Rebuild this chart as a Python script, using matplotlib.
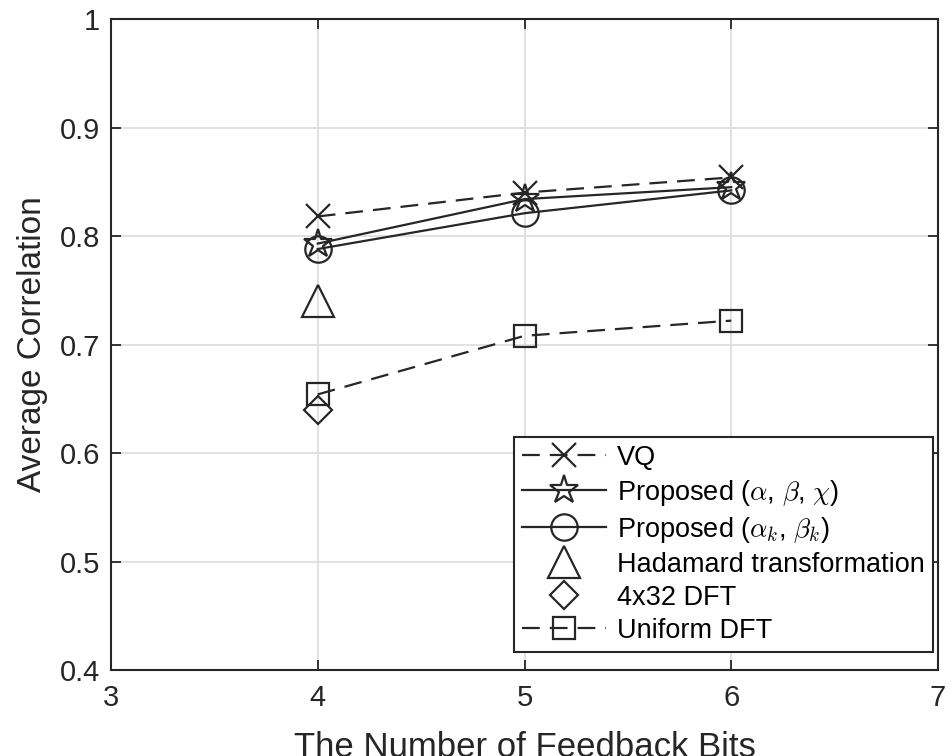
import matplotlib
matplotlib.use("Agg")
import matplotlib.pyplot as plt

plt.rcParams["font.family"] = ["Liberation Sans", "DejaVu Sans"]
plt.rcParams["mathtext.fontset"] = "cm"

# data
bits = [4, 5, 6]
vq = [0.818, 0.840, 0.854]
prop_abc = [0.793, 0.834, 0.845]
prop_k = [0.788, 0.821, 0.842]
hadamard_x = [4]
hadamard = [0.740]
dft432_x = [4]
dft432 = [0.640]
uniform_dft = [0.654, 0.708, 0.722]

fig = plt.figure(figsize=(9.52, 7.56), dpi=100)
# axes box: x 111..938 px, y 19..670 px
ax = fig.add_axes([111 / 952, 1 - 670 / 756, 827 / 952, 651 / 756])

c = "#262626"
lw = 1.6
dash = (0, (8, 4.5))

ax.plot(bits, vq, color=c, lw=lw, ls=dash, marker="x", ms=17, mew=lw,
        label="VQ")
ax.plot(bits, prop_abc, color=c, lw=lw, ls="-", marker="*", ms=21,
        mfc="none", mew=lw, label=r"Proposed ($\alpha$, $\beta$, $\chi$)")
ax.plot(bits, prop_k, color=c, lw=lw, ls="-", marker="o", ms=19,
        mfc="none", mew=lw, label=r"Proposed ($\alpha_k$, $\beta_k$)")
ax.plot(hadamard_x, hadamard, color=c, ls="none", marker="^", ms=23,
        mfc="none", mew=lw, label="Hadamard transformation")
ax.plot(dft432_x, dft432, color=c, ls="none", marker="D", ms=14,
        mfc="none", mew=lw, label="4x32 DFT")
ax.plot(bits, uniform_dft, color=c, lw=lw, ls=dash, marker="s", ms=16,
        mfc="none", mew=lw, label="Uniform DFT")

ax.set_xlim(3, 7)
ax.set_ylim(0.4, 1.0)
ax.set_xticks([3, 4, 5, 6, 7])
ax.set_yticks([0.4, 0.5, 0.6, 0.7, 0.8, 0.9, 1.0])
ax.set_yticklabels(["0.4", "0.5", "0.6", "0.7", "0.8", "0.9", "1"])
ax.grid(True, color="#dedede", lw=1.3)
ax.set_axisbelow(True)
ax.tick_params(labelsize=21, colors=c, direction="in", length=7, width=1.3,
               top=True, right=True, pad=10)
ax.tick_params(axis="y", pad=8)
for s in ax.spines.values():
    s.set_color(c)
    s.set_linewidth(1.5)

ax.set_xlabel("The Number of Feedback Bits", fontsize=25, color=c, labelpad=14)
ax.set_ylabel("Average Correlation", fontsize=24, color=c, labelpad=8)

leg = ax.legend(loc="lower right", bbox_to_anchor=(0.994, 0.0276),
                fontsize=19.5, handlelength=3.1, handletextpad=0.4,
                labelspacing=0.26, borderpad=0.3, borderaxespad=0,
                fancybox=False, framealpha=1, edgecolor=c)
leg.get_frame().set_linewidth(1.5)

fig.savefig("out.png", dpi=100)
